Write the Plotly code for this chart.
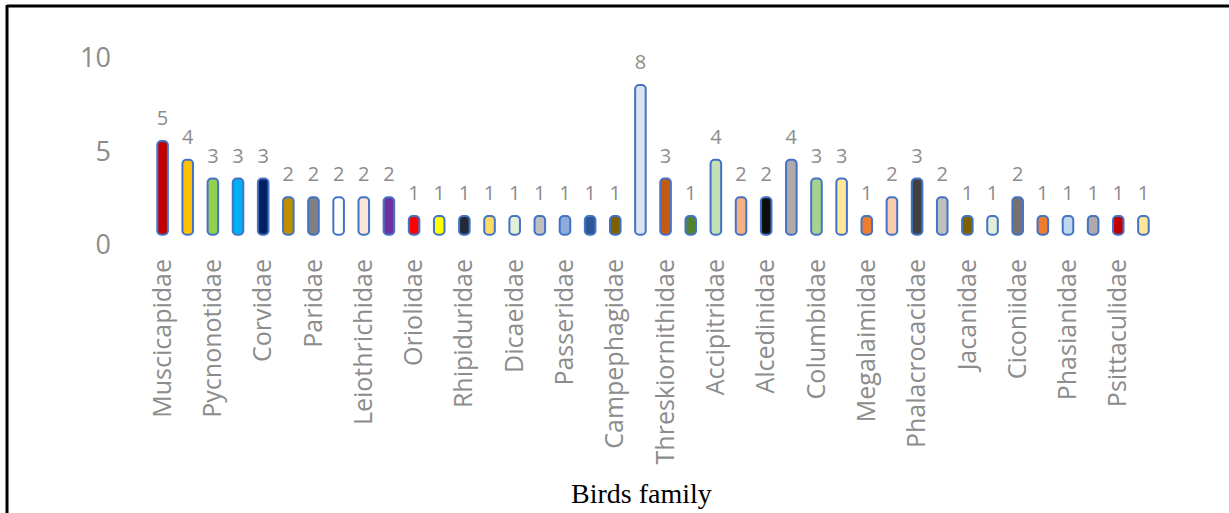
import plotly.graph_objects as go

# ---- data ----
labelled_families = [
    "Muscicapidae", "Pycnonotidae", "Corvidae", "Paridae", "Leiothrichidae",
    "Oriolidae", "Rhipiduridae", "Dicaeidae", "Passeridae", "Campephagidae",
    "Threskiornithidae", "Accipitridae", "Alcedinidae", "Columbidae", "Megalaimidae",
    "Phalacrocacidae", "Jacanidae", "Ciconiidae", "Phasianidae", "Psittaculidae",
]
species_counts = [
    5, 4, 3, 3, 3, 2, 2, 2, 2, 2,
    1, 1, 1, 1, 1, 1, 1, 1, 1, 8,
    3, 1, 4, 2, 2, 4, 3, 3, 1, 2,
    3, 2, 1, 1, 2, 1, 1, 1, 1, 1,
]
bar_colors = [
    "#C00000", "#FFC000", "#92D050", "#00B0F0", "#002060", "#BF8F00", "#808080", "#FFFFFF", "#FBE5D6", "#7030A0",
    "#FF0000", "#FFFF00", "#222A35", "#FFD966", "#E2F0D9", "#BFBFBF", "#8FAADC", "#2F5597", "#7F6000", "#DAE3F3",
    "#C55A11", "#548235", "#C5E0B4", "#F4B183", "#0D0D0D", "#AEAAAA", "#A9D18E", "#FFE699", "#ED7D31", "#F8CBAD",
    "#404040", "#BFBFBF", "#7F6000", "#E2F0D9", "#767171", "#ED7D31", "#BDD7EE", "#AEAAAA", "#C00000", "#FFE699",
]
y_ticks = [0, 5, 10]

positions = list(range(len(species_counts)))
label_positions = positions[::2]

W, H = 1229, 513
ML, MR, MT, MB = 150, 73, 39, 268
PW = W - ML - MR
PH = H - MT - MB
PX_PER_UNIT = 18.72
BAR_BASE = 0.55
LABEL_GAP = 21 / PX_PER_UNIT

GRAY = "#8C8C8C"

fig = go.Figure()
fig.add_trace(go.Bar(
    x=positions,
    y=species_counts,
    base=BAR_BASE,
    width=0.42,
    marker=dict(color=bar_colors, line=dict(color="#4472C4", width=2), cornerradius=4),
    hoverinfo="x+y",
))
fig.add_trace(go.Scatter(
    x=positions,
    y=[v + BAR_BASE + LABEL_GAP for v in species_counts],
    mode="text",
    text=[str(v) for v in species_counts],
    textposition="middle center",
    textfont=dict(family="Open Sans", size=20, color=GRAY),
    cliponaxis=False,
    hoverinfo="skip",
))


def px_to_paper_x(px):
    return (px - ML) / PW


def px_to_paper_y(py):
    return (H - MB - py) / PH


fig.update_layout(
    width=W, height=H,
    margin=dict(l=ML, r=MR, t=MT, b=MB),
    paper_bgcolor="white",
    plot_bgcolor="white",
    showlegend=False,
    xaxis=dict(
        range=[-0.5, len(species_counts) - 0.5],
        tickmode="array",
        tickvals=label_positions,
        ticktext=labelled_families,
        tickangle=-90,
        tickfont=dict(family="Open Sans", size=25, color=GRAY),
        showgrid=False, zeroline=False, showline=False, ticks="",
        ticklabelstandoff=8,
    ),
    yaxis=dict(
        range=[0, PH / PX_PER_UNIT],
        tickmode="array",
        tickvals=y_ticks,
        tickfont=dict(family="Open Sans", size=27, color=GRAY),
        showgrid=False, zeroline=False, showline=False, ticks="",
        ticklabelstandoff=38,
    ),
    annotations=[dict(
        text="Birds family",
        xref="paper", yref="paper",
        x=px_to_paper_x(641), y=px_to_paper_y(493),
        xanchor="center", yanchor="middle",
        showarrow=False,
        font=dict(family="Liberation Serif", size=28, color="black"),
    )],
    shapes=[
        dict(type="line", xref="paper", yref="paper",
             x0=px_to_paper_x(7), x1=px_to_paper_x(1240),
             y0=px_to_paper_y(6), y1=px_to_paper_y(6),
             line=dict(color="black", width=3)),
        dict(type="line", xref="paper", yref="paper",
             x0=px_to_paper_x(7), x1=px_to_paper_x(7),
             y0=px_to_paper_y(5), y1=px_to_paper_y(520),
             line=dict(color="black", width=3)),
    ],
)

fig.write_html(
    "out.html",
    config={"displayModeBar": False},
    post_script="document.body.style.margin='0px';document.body.style.overflow='hidden';",
)
